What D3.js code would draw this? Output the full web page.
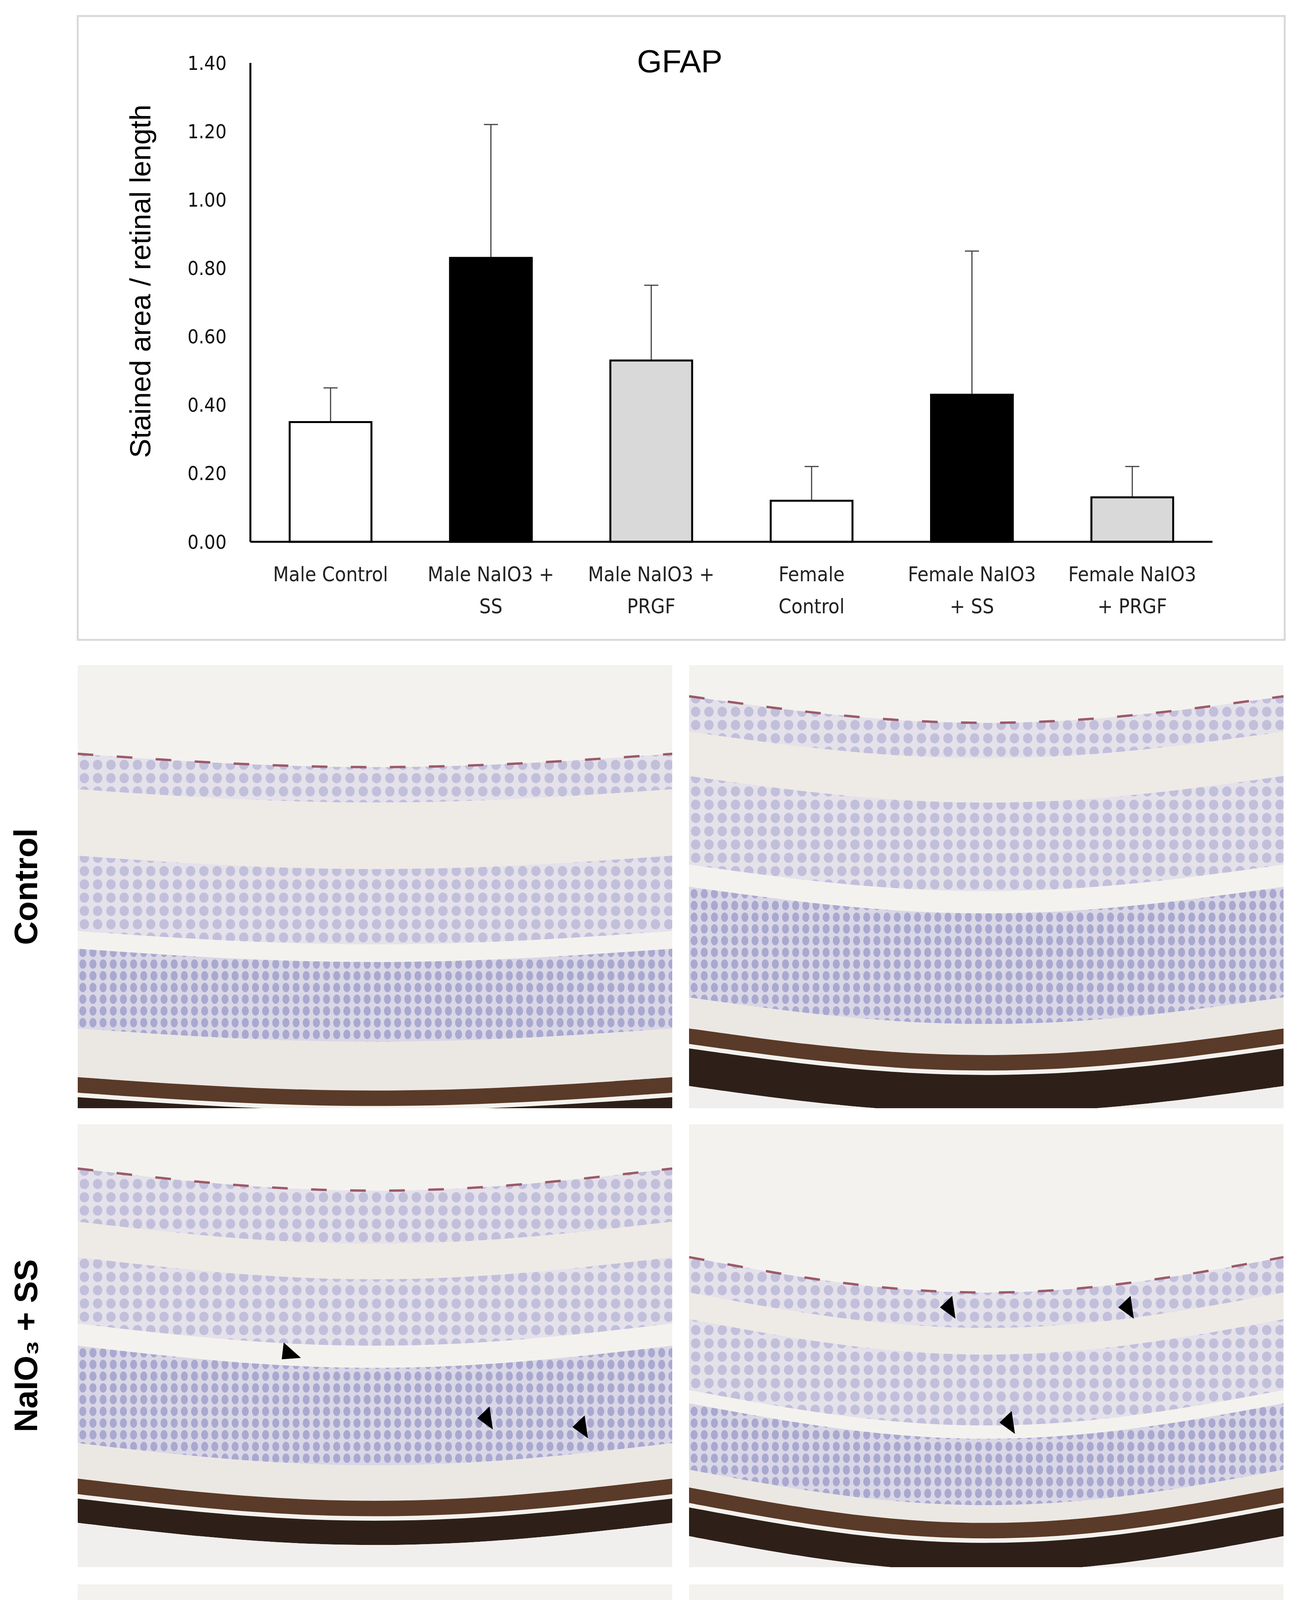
<!DOCTYPE html><html><head><meta charset="utf-8">
<script src="https://cdn.jsdelivr.net/npm/d3@7/dist/d3.min.js"></script>
<style>body{margin:0;background:#fff}</style></head><body>
<script>
const categories=[["Male Control"],["Male NaIO3 +","SS"],["Male NaIO3 +","PRGF"],["Female","Control"],["Female NaIO3","+ SS"],["Female NaIO3","+ PRGF"]];
const means=[0.35,0.83,0.53,0.12,0.43,0.13];
const errTop=[0.45,1.22,0.75,0.22,0.85,0.22];
const fills=["#ffffff","#000000","#d9d9d9","#ffffff","#000000","#d9d9d9"];
const yTicks=[0,0.2,0.4,0.6,0.8,1.0,1.2,1.4];
const rowLabels=["Control","NaIO\u2083 + SS","NaIO\u2083 + PRGF"];
const colLabels=["Male","Female"];
// arrowheads per panel [row][col] as fractions
const arrows=[[[],[]],[[[0.36,0.52],[0.69,0.67],[0.85,0.69]],[[0.44,0.42],[0.74,0.42],[0.54,0.68]]],[[[0.36,0.45]],[]]];

const W=3323,H=5368;
const svg=d3.select("body").append("svg").attr("width",W).attr("height",H);
svg.append("rect").attr("x",199).attr("y",41).attr("width",3090).attr("height",1597).attr("fill","#fff").attr("stroke","#d9d9d9").attr("stroke-width",5);
const x=d3.scaleBand().domain(d3.range(6)).range([641,3104]).paddingInner(0.49).paddingOuter(0.245);
const y=d3.scaleLinear().domain([0,1.4]).range([1387,161]);
const g=svg.append("g");
g.selectAll(".eb").data(means).join("line").attr("x1",(d,i)=>x(i)+x.bandwidth()/2).attr("x2",(d,i)=>x(i)+x.bandwidth()/2)
 .attr("y1",d=>y(d)).attr("y2",(d,i)=>y(errTop[i])).attr("stroke","#444").attr("stroke-width",3);
g.selectAll(".ec").data(errTop).join("line").attr("x1",(d,i)=>x(i)+x.bandwidth()/2-18).attr("x2",(d,i)=>x(i)+x.bandwidth()/2+18)
 .attr("y1",d=>y(d)).attr("y2",d=>y(d)).attr("stroke","#444").attr("stroke-width",3);
g.selectAll(".bar").data(means).join("rect").attr("x",(d,i)=>x(i)).attr("width",x.bandwidth()).attr("y",d=>y(d)).attr("height",d=>y(0)-y(d))
 .attr("fill",(d,i)=>fills[i]).attr("stroke","#000").attr("stroke-width",5);
g.append("line").attr("x1",641).attr("x2",641).attr("y1",161).attr("y2",1387).attr("stroke","#000").attr("stroke-width",5);
g.append("line").attr("x1",641).attr("x2",3104).attr("y1",1387).attr("y2",1387).attr("stroke","#000").attr("stroke-width",5);
g.selectAll(".yt").data(yTicks).join("text").attr("x",580).attr("y",d=>y(d)).attr("dy","0.35em").attr("text-anchor","end")
 .attr("font-family","Liberation Sans Narrow, DejaVu Sans Condensed, sans-serif").attr("font-size",50).attr("fill","#111").text(d=>d.toFixed(2));
categories.forEach((c,i)=>c.forEach((t,j)=>g.append("text").attr("x",x(i)+x.bandwidth()/2).attr("y",1488+j*82).attr("text-anchor","middle")
 .attr("font-family","DejaVu Sans Condensed, sans-serif").attr("font-size",52).attr("fill","#222").text(t)));
g.append("text").attr("x",1740).attr("y",185).attr("text-anchor","middle").attr("font-family","Liberation Sans, Arial, sans-serif").attr("font-size",82).text("GFAP");
g.append("text").attr("transform","translate(385,720) rotate(-90)").attr("text-anchor","middle").attr("font-family","Liberation Sans, Arial, sans-serif").attr("font-size",74).text("Stained area / retinal length");

// photo panels (stylized)
const cols=[199,1764],rows=[1703,2878,4056],pw=1522,ph=1134;
const defs=svg.append("defs");
const pat=defs.append("pattern").attr("id","nuc").attr("width",26).attr("height",30).attr("patternUnits","userSpaceOnUse");
pat.append("rect").attr("width",26).attr("height",30).attr("fill","#d9d6e6");
pat.append("ellipse").attr("cx",13).attr("cy",15).attr("rx",9).attr("ry",12).attr("fill","#a9a8cf");
const pat2=defs.append("pattern").attr("id","nuc2").attr("width",34).attr("height",34).attr("patternUnits","userSpaceOnUse");
pat2.append("rect").attr("width",34).attr("height",34).attr("fill","#e4e1ea");
pat2.append("ellipse").attr("cx",17).attr("cy",17).attr("rx",12).attr("ry",13).attr("fill","#c2bfdb");
const curv=[[0.03,0.06],[0.05,0.08],[-0.02,0.0]];
const layers=[[0.2,0.28,0.43,0.6,0.64,0.82,0.93,1.0],[0.1,0.22,0.3,0.45,0.5,0.72,0.8,0.9],[0.26,0.34,0.44,0.58,0.62,0.75,0.8,0.92]];
const layersF=[[0.07,0.15,0.25,0.45,0.5,0.75,0.82,0.95],[0.3,0.38,0.44,0.6,0.63,0.78,0.82,0.93],[0.22,0.3,0.36,0.56,0.6,0.72,0.74,0.9]];
rows.forEach((ry,r)=>cols.forEach((cx,c)=>{
 const L=c==0?layers[r]:layersF[r];
 const pg=svg.append("g").attr("transform",`translate(${cx},${ry})`);
 const cid=`cl${r}${c}`;defs.append("clipPath").attr("id",cid).append("rect").attr("width",pw).attr("height",ph);
 pg.attr("clip-path",`url(#${cid})`);
 pg.append("rect").attr("width",pw).attr("height",ph).attr("fill","#f4f2ee");
 const bend=(c==0?curv[r][0]:curv[r][1])*ph;
 const ys=f=>d3.range(0,1.01,0.1).map(t=>[t*pw,f*ph+bend*Math.sin(Math.PI*t)*(r==2&&c==0?-1:1)]);
 const band=(a,b,fill)=>{const top=ys(a),bot=ys(b).reverse();pg.append("path").attr("d",d3.line().curve(d3.curveCatmullRom)(top)+"L"+d3.line().curve(d3.curveCatmullRom)(bot).slice(1)+"Z").attr("fill",fill);};
 band(L[0],L[1],"url(#nuc2)");
 pg.append("path").attr("d",d3.line().curve(d3.curveCatmullRom)(ys(L[0]))).attr("fill","none").attr("stroke","#9b5a6a").attr("stroke-width",6).attr("stroke-dasharray","40 60");
 band(L[1],L[2],"#eeebe6");
 band(L[2],L[3],"url(#nuc2)");
 band(L[4],L[5],"url(#nuc)");
 band(L[5],L[6],"#ebe8e4");
 band(L[6],L[6]+0.035,"#5a3a28");
 band(L[6]+0.045,L[7],"#2e2018");
 band(L[7],1.2,"#f1efed");
 (arrows[r][c]||[]).forEach(a=>{const ax=a[0]*pw,ay=a[1]*ph;pg.append("path").attr("d",`M${ax-30},${ay-22}L${ax+25},${ay}L${ax-20},${ay+20}Z`).attr("fill","#000").attr("transform",`rotate(${c==1||a[0]>0.5?60:20},${ax},${ay})`);});
}));
rowLabels.forEach((t,i)=>svg.append("text").attr("transform",`translate(95,${rows[i]+ph/2}) rotate(-90)`).attr("text-anchor","middle")
 .attr("font-family","Liberation Sans, Arial, sans-serif").attr("font-weight","bold").attr("font-size",84).text(t));
colLabels.forEach((t,i)=>svg.append("text").attr("x",cols[i]+pw/2).attr("y",5340).attr("text-anchor","middle")
 .attr("font-family","Liberation Sans, Arial, sans-serif").attr("font-weight","bold").attr("font-size",84).text(t));
</script></body></html>
